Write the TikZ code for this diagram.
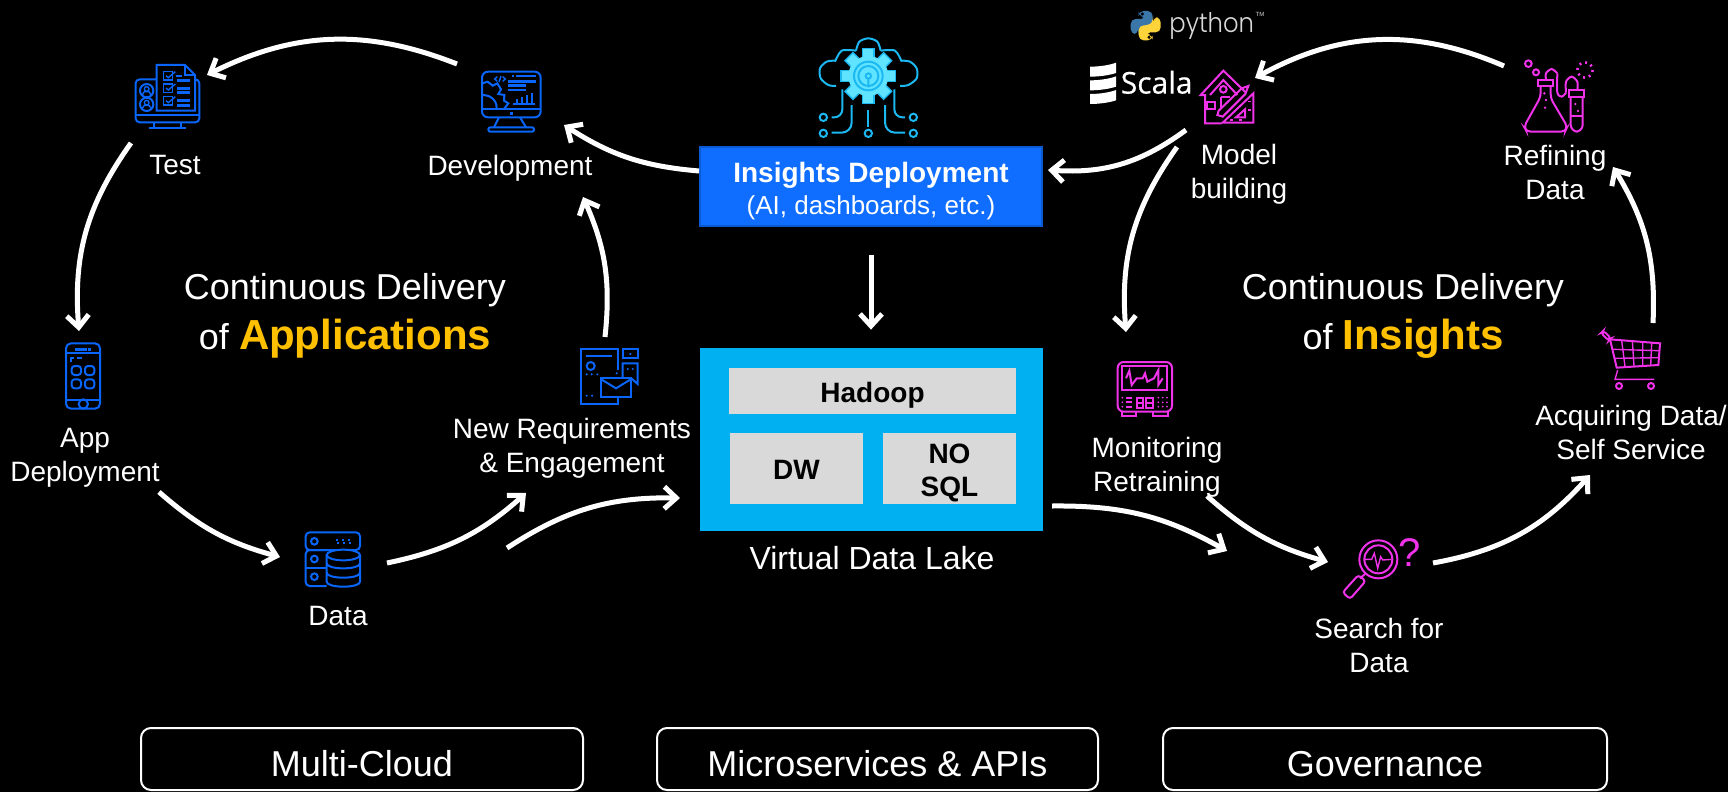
\documentclass[tikz,border=0pt]{standalone}
\usepackage{fontspec}
\usepackage{tikz}
\setmainfont{Liberation Sans}
\newfontfamily\pyfont{Poppins Light}
\newfontfamily\scalafont[FakeBold=0.5]{Open Sans}
\usetikzlibrary{arrows.meta}
\usetikzlibrary{positioning}
\definecolor{devblue}{HTML}{0A66FA}
\definecolor{boxblue}{HTML}{0F6EFF}
\definecolor{edgeblue}{HTML}{0B5AD2}
\definecolor{lakeblue}{HTML}{00B0F0}
\definecolor{cloudcyan}{HTML}{1CB8F2}
\definecolor{gearcyan}{HTML}{5FE3FF}
\definecolor{magentaicon}{HTML}{F033EA}
\definecolor{amber}{HTML}{FFC000}
\definecolor{greybox}{HTML}{D9D9D9}
\definecolor{pyblue}{HTML}{3A76A8}
\definecolor{pyyellow}{HTML}{FFD43B}
\tikzset{flow/.style = {line width = 2.5pt, white, -{Straight Barb[length = 6pt, width = 11pt]}}}
\tikzset{crop/.style = {x = 0.16667pt, y = -0.16667pt}}
\tikzset{lbl/.style = {text = white, align = center, inner sep = 0, font = \fontsize{14}{17}\selectfont}}
\tikzset{big/.style = {text = white, align = center, inner sep = 0, font = \fontsize{18}{25}\selectfont}}
\tikzset{greycell/.style = {fill = greybox, text = black, align = center, inner sep = 0, font = \fontsize{14}{16.5}\selectfont\bfseries}}
\tikzset{basebox/.style = {draw = white, line width = 1pt, rounded corners = 5pt, text = white, inner sep = 0, minimum height = 31pt, text height = 17pt, text depth = 0pt, font = \fontsize{18}{22}\selectfont}}
\tikzset{blueline/.style = {draw = devblue, line width = 1pt}}
\tikzset{pinkline/.style = {draw = magentaicon, line width = 1pt}}
\tikzset{cyanline/.style = {draw = cloudcyan, line width = 1pt}}
\begin{document}
\begin{tikzpicture}[x = 0.5pt, y = -0.5pt]
  \useasboundingbox (0, 0) rectangle (1728, 792);
  \fill [black] (0, 0) rectangle (1728, 792);

  % boxes
  \node [fill = boxblue, draw = edgeblue, line width = 1pt, inner sep = 0,
    minimum width = 171pt, minimum height = 39.5pt] (insights) at (871, 186) {};
  \node [text = white, align = center, inner sep = 0] (insightstext) at (871, 191)
    {{\fontsize{14}{16.5}\selectfont\bfseries Insights Deployment}\\[3pt]{\fontsize{13}{16}\selectfont (AI, dashboards, etc.)}};
  \node [fill = lakeblue, inner sep = 0, minimum width = 171.5pt, minimum height = 91.5pt] (lake) at (871.5, 439.5) {};
  \node [greycell, minimum width = 143.5pt, minimum height = 23pt, text height = 11pt, text depth = 0pt] (hadoop) at (872.5, 391) {Hadoop};
  \node [greycell, minimum width = 66.5pt, minimum height = 35.5pt, text height = 11pt, text depth = 0pt] (dw) at (796.5, 468.5) {DW};
  \node [greycell, minimum width = 66.5pt, minimum height = 35.5pt] (nosql) at (949.5, 468.5) {};
  \node [greycell, fill = none] (nosqltext) at (949.5, 473) {NO\\SQL};
  \node [lbl, font = \fontsize{16}{19}\selectfont] (lakename) at (872, 558) {Virtual Data Lake};
  \node [basebox, minimum width = 221pt] (multicloud) at (362, 759) {Multi-Cloud};
  \node [basebox, minimum width = 220.5pt] (micro) at (877.5, 759) {Microservices \& APIs};
  \node [basebox, minimum width = 222pt] (governance) at (1385, 759) {Governance};

  % labels
  \node [lbl] (test) at (175, 165) {Test};
  \node [lbl] (development) at (510, 168) {Development};
  \node [lbl] (appdeploy) at (85, 458) {App\\Deployment};
  \node [lbl] (data) at (338, 616) {Data};
  \node [lbl] (newreq) at (572, 448) {New Requirements\\\& Engagement};
  \node [lbl] (model) at (1239, 174) {Model\\building};
  \node [lbl] (refining) at (1555, 172) {Refining\\Data};
  \node [lbl] (monitoring) at (1157, 467) {Monitoring\\Retraining};
  \node [lbl] (acquiring) at (1631, 432) {Acquiring Data/\\Self Service};
  \node [lbl] (search) at (1379, 645) {Search for\\Data};
  \node [big] (appsloop) at (345, 316) {Continuous Delivery\\of {\fontsize{21}{25}\selectfont\bfseries\color{amber}Applications}};
  \node [big] (insightsloop) at (1403, 316) {Continuous Delivery\\of {\fontsize{21}{25}\selectfont\bfseries\color{amber}Insights}};

  % arrow ends
  \coordinate (devout) at (457, 64);
  \coordinate (testin) at (207, 75);
  \coordinate (testout) at (131, 143);
  \coordinate (appin) at (79, 331);
  \coordinate (appout) at (159, 492);
  \coordinate (datain) at (280, 557);
  \coordinate (dataout) at (387, 563);
  \coordinate (reqin) at (526, 493);
  \coordinate (reqout) at (605, 337);
  \coordinate (devinb) at (583, 197);
  \coordinate (devina) at (564, 125);
  \coordinate (deployout) at (699, 171);
  \coordinate (deployin) at (1048, 170);
  \coordinate (modelout) at (1186, 130);
  \coordinate (modelin) at (1255, 78);
  \coordinate (refout) at (1504, 66);
  \coordinate (refin) at (1613, 167);
  \coordinate (acqout) at (1653, 323);
  \coordinate (acqin) at (1590, 475);
  \coordinate (searchout) at (1433, 563);
  \coordinate (searchina) at (1328, 562);
  \coordinate (searchinb) at (1227, 551);
  \coordinate (monout) at (1207, 496);
  \coordinate (monin) at (1126, 332);
  \coordinate (modeloutb) at (1177, 147);
  \coordinate (lakeinfrom) at (507, 548);
  \coordinate (lakein) at (680, 498);
  \coordinate (lakeout) at (1052, 506);

  % arrows
  \draw [flow] (devout) to [bend right = 24] (testin);
  \draw [flow] (testout) to [bend right = 20] (appin);
  \draw [flow] (appout) to [bend right = 13] (datain);
  \draw [flow] (dataout) to [bend right = 15] (reqin);
  \draw [flow] (reqout) to [bend right = 15] (devinb);
  \draw [flow] (deployout) to [bend left = 14] (devina);
  \draw [flow] (modelout) to [bend left = 20] (deployin);
  \draw [flow] (refout) to [bend right = 26] (modelin);
  \draw [flow] (modeloutb) to [bend right = 20] (monin);
  \draw [flow] (monout) to [bend right = 13] (searchina);
  \draw [flow] (searchout) to [bend right = 19] (acqin);
  \draw [flow] (acqout) to [bend right = 17] (refin);
  \draw [flow] (lakeinfrom) to [bend left = 17] (lakein);
  \draw [flow] (lakeout) to [bend left = 15] (searchinb);
  \draw [flow, shorten <= 14pt, shorten >= 9pt] (insights.south) -- (insights.south |- lake.north);

  % test icon
  \begin{scope}[shift = {(100, 40)}, crop]
    \draw [blueline, rounded corners = 2pt] (170, 118) -- (107, 118) -- (107, 247) -- (298, 247) -- (298, 118) -- (285, 118);
    \draw [blueline] (107, 224) -- (298, 224);
    \draw [blueline] (162, 247) -- (162, 265) (243, 247) -- (243, 265) (148, 265) -- (258, 265);
    \draw [blueline, fill = black] (170, 75) -- (255, 75) -- (285, 105) -- (285, 212) -- (170, 212) -- cycle;
    \draw [blueline] (255, 75) -- (255, 105) -- (285, 105);
    \foreach \y in {95, 132, 170} {
      \draw [blueline, line width = 0.7pt] (190, \y) rectangle (218, \y + 25);
      \draw [blueline, line width = 0.7pt] (198, \y + 12) -- (205, \y + 18) -- (226, \y);
    }
    \foreach \y in {122, 145, 158, 182, 197} {
      \draw [blueline, line width = 1.2pt] (232, \y) -- (270, \y);
    }
    \draw [blueline, line width = 1.2pt] (228, 108) -- (245, 108);
    \foreach \y in {152, 193} {
      \draw [blueline] (140, \y) circle [radius = 20];
      \draw [blueline, line width = 0.7pt] (140, \y - 5) circle [radius = 7];
      \draw [blueline, line width = 0.7pt] (127, \y + 12) -- (133, \y + 3) -- (147, \y + 3) -- (153, \y + 12);
    }
  \end{scope}

  % development icon
  \begin{scope}[shift = {(100, 40)}, crop]
    \draw [blueline, rounded corners = 3pt] (1146, 95) rectangle (1322, 232);
    \draw [blueline] (1146, 207) -- (1322, 207);
    \fill [devblue] (1231, 216) rectangle (1239, 224);
    \draw [blueline] (1197, 232) -- (1182, 262) (1260, 232) -- (1278, 262);
    \draw [blueline, rounded corners = 1pt] (1165, 262) rectangle (1302, 275);
    \draw [blueline, line width = 0.7pt] (1192, 110) -- (1184, 117) -- (1192, 124) (1208, 110) -- (1216, 117) -- (1208, 124) (1203, 108) -- (1197, 126);
    \draw [blueline, line width = 1.2pt] (1236, 108) -- (1242, 108) (1248, 108) -- (1308, 108) (1225, 125) -- (1308, 125) (1225, 137) -- (1278, 137) (1225, 150) -- (1278, 150);
    \draw [blueline] (1147, 165) .. controls (1180, 165) and (1192, 190) .. (1190, 207);
    \draw [blueline] (1147, 130) -- (1163, 125) -- (1178, 137) -- (1192, 130) -- (1203, 148) -- (1195, 162) -- (1213, 165) -- (1212, 182) -- (1225, 190) -- (1212, 207);
    \draw [blueline, line width = 0.7pt] (1240, 192) -- (1306, 192);
    \foreach \x/\y in {1250/178, 1265/172, 1280/165, 1295/158} {
      \draw [blueline] (\x, 192) -- (\x, \y);
    }
  \end{scope}

  % cloud icon
  \begin{scope}[shift = {(780, 0)}, crop]
    \draw [cyanline] plot [smooth] coordinates {(168, 258) (145, 255) (122, 235) (120, 205) (140, 185) (165, 182)};
    \draw [cyanline] plot [smooth] coordinates {(165, 185) (185, 152) (228, 152)};
    \draw [cyanline] plot [smooth] coordinates {(228, 152) (238, 125) (265, 115) (292, 125) (302, 152)};
    \draw [cyanline] plot [smooth] coordinates {(302, 152) (345, 152) (365, 185)};
    \draw [cyanline] plot [smooth] coordinates {(365, 182) (390, 185) (410, 205) (410, 235) (385, 255) (360, 258)};
    \foreach \a in {0, 45, ..., 315} {
      \fill [gearcyan, rotate around = {\a:(265, 228)}] (248, 146) rectangle (282, 172);
      \draw [cloudcyan, line width = 0.7pt, rotate around = {\a:(265, 228)}] (248, 172) -- (248, 146) -- (282, 146) -- (282, 172);
    }
    \fill [gearcyan] (265, 228) circle [radius = 60];
    \draw [cyanline] (265, 228) circle [radius = 43];
    \draw [cyanline] (265, 228) circle [radius = 30];
    \draw [cyanline] (265, 228) circle [radius = 8] (265, 236) -- (265, 262);
    \draw [cyanline] (265, 330) -- (265, 382);
    \draw [cyanline, rounded corners = 4pt] (187, 268) -- (187, 352) -- (155, 352);
    \draw [cyanline, rounded corners = 5pt] (215, 315) -- (215, 398) -- (155, 398);
    \draw [cyanline, rounded corners = 4pt] (343, 268) -- (343, 352) -- (375, 352);
    \draw [cyanline, rounded corners = 5pt] (315, 315) -- (315, 398) -- (375, 398);
    \foreach \x/\y in {130/352, 130/400, 265/400, 400/352, 400/400} {
      \draw [cyanline] (\x, \y) circle [radius = 11];
    }
  \end{scope}

  % python and scala marks
  \begin{scope}[shift = {(780, 0)}, crop]
    \fill [pyblue, rounded corners = 2.5pt] (1076, 33) -- (1118, 33) -- (1118, 78) -- (1085, 78) -- (1075, 90) -- (1075, 102) -- (1052, 102) -- (1052, 57) -- (1098, 57) -- (1098, 50) -- (1076, 50) -- cycle;
    \fill [pyyellow, rounded corners = 2.5pt] (1118, 121) -- (1076, 121) -- (1076, 76) -- (1109, 76) -- (1119, 64) -- (1119, 52) -- (1142, 52) -- (1142, 97) -- (1096, 97) -- (1096, 104) -- (1118, 104) -- cycle;
    \fill [black] (1087, 42) circle [radius = 5];
    \fill [black] (1107, 112) circle [radius = 5];
    \node [text = greybox, inner sep = 0, xscale = 0.9, font = \pyfont\fontsize{13.5}{16}\selectfont] (python) at (1295, 78) {python};
    \node [text = greybox, inner sep = 0, font = \fontsize{3}{4}\selectfont] (pythontm) at (1440, 42) {TM};
    \foreach \y in {0, 41, 82} {
      \fill [white] (930, 200 + \y) .. controls (960, 200 + \y) and (990, 195 + \y) .. (1008, 188 + \y) -- (1008, 219 + \y) .. controls (990, 225 + \y) and (960, 230 + \y) .. (930, 230 + \y) -- cycle;
    }
    \node [text = white, inner sep = 0, font = \scalafont\fontsize{15}{17}\selectfont] (scala) at (1130, 247) {Scala};
  \end{scope}

  % model icon
  \begin{scope}[shift = {(780, 0)}, crop]
    \draw [pinkline] (1325, 370) -- (1275, 370) -- (1275, 285) -- (1262, 285) -- (1330, 212) -- (1398, 278);
    \draw [pinkline] (1290, 285) -- (1330, 240) -- (1372, 285);
    \draw [pinkline] (1282, 305) rectangle (1305, 328);
    \draw [pinkline] (1330, 268) circle [radius = 10];
    \draw [pinkline] (1322, 290) -- (1322, 325) (1322, 290) -- (1350, 290);
    \draw [pinkline] (1405, 258) -- (1385, 265) -- (1316, 332) -- (1312, 345) -- (1328, 350) -- (1396, 282) -- cycle;
    \draw [pinkline] (1420, 280) -- (1420, 368) -- (1328, 368) -- cycle;
    \draw [pinkline] (1395, 328) -- (1395, 352) -- (1368, 352) -- cycle;
    \foreach \x/\y in {1405/305, 1405/330, 1350/360, 1378/360} {
      \draw [pinkline, line width = 0.6pt] (\x, \y) -- (\x + 8, \y);
    }
  \end{scope}

  % refining icon
  \begin{scope}[shift = {(1300, 30)}, crop]
    \draw [pinkline] (714, 150) rectangle (760, 168);
    \draw [pinkline, rounded corners = 2pt] (722, 168) -- (722, 200) -- (672, 290) -- (680, 305) -- (795, 305) -- (802, 290) -- (752, 205) -- (752, 168);
    \draw [pinkline] plot [smooth] coordinates {(738, 150) (738, 130) (755, 117) (772, 130)};
    \draw [pinkline] plot [smooth] coordinates {(772, 130) (772, 188) (785, 200) (798, 188)};
    \draw [pinkline] plot [smooth] coordinates {(798, 188) (798, 155) (815, 140) (832, 155) (832, 180)};
    \draw [pinkline] (806, 180) rectangle (853, 200);
    \draw [pinkline, rounded corners = 3.5pt] (812, 200) -- (812, 305) -- (848, 305) -- (848, 200);
    \draw [pinkline] (812, 257) -- (848, 257);
    \draw [pinkline] (685, 101) circle [radius = 10];
    \draw [pinkline] (708, 127) circle [radius = 9];
    \draw [pinkline, dotted, line width = 1.3pt] (855, 120) circle [radius = 23];
    \foreach \x/\y in {733/190, 738/210, 735/233, 826/222, 834/243} {
      \fill [magentaicon] (\x, \y) circle [radius = 4];
    }
  \end{scope}

  % phone icon
  \begin{scope}[shift = {(40, 330)}, crop]
    \draw [blueline, rounded corners = 2.5pt] (78, 40) rectangle (180, 236);
    \draw [blueline] (78, 70) -- (180, 70) (78, 210) -- (180, 210);
    \draw [blueline, line width = 1.3pt] (105, 58) -- (140, 58) (145, 58) -- (152, 58);
    \draw [blueline] (92, 95) -- (92, 85) -- (103, 85) (112, 85) -- (125, 85);
    \foreach \x in {95, 135} {
      \foreach \y in {108, 148} {
        \draw [blueline, rounded corners = 1.5pt] (\x, \y) rectangle (\x + 28, \y + 27);
      }
    }
    \draw [blueline] (130, 222) circle [radius = 14];
  \end{scope}

  % data icon
  \begin{scope}[shift = {(40, 330)}, crop]
    \draw [blueline, rounded corners = 2pt] (797, 607) rectangle (960, 660);
    \draw [blueline, rounded corners = 2pt] (860, 660) -- (797, 660) -- (797, 768) -- (860, 768);
    \draw [blueline] (797, 715) -- (860, 715);
    \foreach \y in {634, 687, 740} {
      \draw [blueline] (823, \y) circle [radius = 10];
    }
    \draw [blueline, dotted] (888, 630) -- (940, 630);
    \draw [blueline, dotted] (892, 638) -- (942, 638);
    \draw [blueline, fill = black] (910, 675) ellipse [x radius = 50, y radius = 16];
    \draw [blueline] (860, 675) -- (860, 755) .. controls (860, 775) and (960, 775) .. (960, 755) -- (960, 675);
    \foreach \y in {700, 728} {
      \draw [blueline] (860, \y) .. controls (860, \y + 20) and (960, \y + 20) .. (960, \y);
    }
  \end{scope}

  % requirements icon
  \begin{scope}[shift = {(550, 330)}, crop]
    \draw [blueline] (203, 120) -- (203, 57) -- (92, 57) -- (92, 223) -- (203, 223) -- (203, 200);
    \draw [blueline] (108, 78) -- (187, 78);
    \draw [blueline] (122, 108) circle [radius = 12];
    \foreach \x/\y in {110/133, 125/133, 142/133, 110/197, 126/197, 200/130, 241/72, 233/117, 248/117} {
      \fill [devblue] (\x, \y) circle [radius = 3.5];
    }
    \draw [blueline] (218, 58) rectangle (265, 85);
    \draw [blueline] (244, 145) -- (263, 162) -- (263, 100) -- (218, 100) -- (218, 145);
    \draw [blueline] (152, 145) rectangle (244, 200);
    \draw [blueline] (152, 147) -- (198, 175) -- (244, 147);
  \end{scope}

  % monitor icon
  \begin{scope}[shift = {(1090, 340)}, crop]
    \draw [pinkline, rounded corners = 3pt] (83, 215) -- (83, 66) -- (246, 66) -- (246, 215) -- cycle;
    \draw [pinkline] (97, 78) rectangle (232, 150);
    \draw [pinkline] (108, 115) -- (118, 92) -- (125, 135) -- (140, 115) -- (158, 115) -- (165, 100) -- (172, 125) -- (192, 115) -- (205, 90) -- (205, 135) -- (218, 115);
    \draw [pinkline] (95, 215) -- (95, 227) -- (138, 227) -- (138, 215) (190, 215) -- (190, 227) -- (233, 227) -- (233, 215);
    \foreach \y in {173, 187, 200} {
      \fill [magentaicon] (97, \y) circle [radius = 3];
      \draw [pinkline] (108, \y) -- (125, \y);
      \foreach \x in {205, 218, 231} {
        \fill [magentaicon] (\x, \y) circle [radius = 3];
      }
    }
    \foreach \x in {140, 168} {
      \draw [pinkline] (\x, 173) rectangle (\x + 20, 203) (\x, 188) -- (\x + 20, 188);
    }
  \end{scope}

  % cart icon
  \begin{scope}[shift = {(1320, 320)}, crop]
    \draw [pinkline, rounded corners = 1.5pt] (850, 32) -- (873, 55) -- (866, 62) -- (843, 39) -- cycle;
    \draw [pinkline] (870, 58) -- (1020, 70) -- (1015, 135) -- (890, 143) -- cycle;
    \draw [pinkline, line width = 0.7pt] (877, 88) -- (1018, 92) (884, 115) -- (1016, 113);
    \draw [pinkline, line width = 0.7pt] (905, 62) -- (915, 140) (937, 64) -- (942, 138) (968, 67) -- (968, 137) (995, 69) -- (992, 136);
    \draw [pinkline, line width = 0.7pt] (893, 150) -- (885, 178) -- (1003, 178);
    \draw [pinkline] (897, 198) circle [radius = 9] (993, 198) circle [radius = 9];
  \end{scope}

  % search icon
  \begin{scope}[shift = {(1320, 320)}, crop]
    \draw [pinkline] (175, 718) circle [radius = 57];
    \draw [pinkline] (175, 718) circle [radius = 42];
    \draw [pinkline, line width = 0.7pt] (135, 718) -- (155, 718) -- (163, 700) -- (173, 745) -- (182, 710) -- (188, 720) -- (215, 718);
    \draw [pinkline] (135, 762) -- (120, 775);
    \draw [pinkline, rounded corners = 1.5pt] (115, 765) -- (137, 783) -- (90, 837) -- (68, 817) -- cycle;
    \node [text = magentaicon, inner sep = 0, font = \fontsize{20}{24}\selectfont] (question) at (268, 697) {?};
  \end{scope}
\end{tikzpicture}
\end{document}
